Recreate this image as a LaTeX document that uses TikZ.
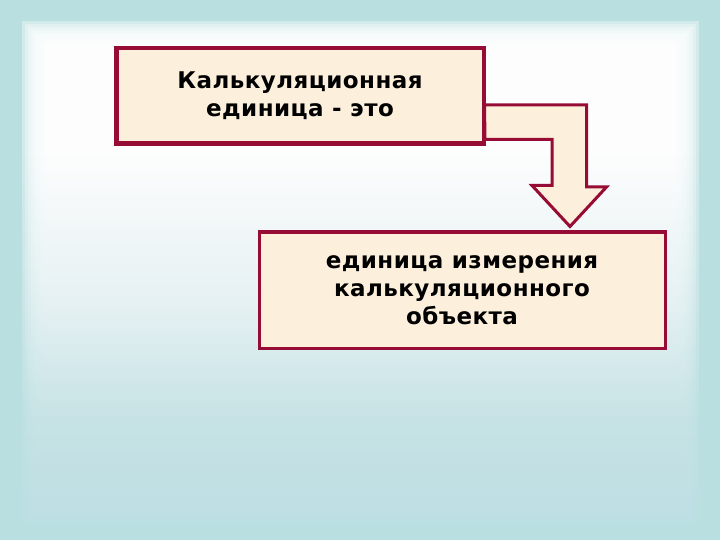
\documentclass[tikz,border=0pt]{standalone}
\usepackage{fontspec}
\setmainfont{DejaVu Sans}
\usetikzlibrary{calc}
\definecolor{teal0}{RGB}{186,223,224}
\definecolor{tealb}{RGB}{190,224,230}
\definecolor{crim}{RGB}{150,12,52}
\definecolor{beige}{RGB}{252,240,220}
\definecolor{bgA}{RGB}{232,243,245}
\definecolor{bgB}{RGB}{200,228,230}
\tikzset{
  box/.style={draw=crim, line width=3pt, fill=beige, inner sep=0pt,
    font=\bfseries\addfontfeatures{LetterSpace=2}\fontsize{23}{28}\selectfont, align=center},
  bigarrow/.style={draw=crim, line width=3pt, fill=beige, line join=miter}
}
\begin{document}
\begin{tikzpicture}[x=1pt,y=-1pt]
\useasboundingbox (0,0) rectangle (720,540);
\fill[teal0] (0,0) rectangle (720,540);
\foreach \i in {0,...,9}{
  \begin{scope}
    \clip ({22+3*\i},{22+3*\i}) rectangle ({698-3*\i},{522-3*\i});
    \begin{scope}[opacity=0.35, transparency group]
      \fill[white] (0,0) rectangle (720,150.5);
      \shade[top color=white, bottom color=bgA] (0,150) rectangle (720,300.5);
      \shade[top color=bgA, bottom color=bgB] (0,300) rectangle (720,420.5);
      \shade[top color=bgB, bottom color=tealb] (0,420) rectangle (720,540);
    \end{scope}
  \end{scope}
}
% boxes
\node[box, minimum width=366pt, minimum height=94pt] (a) at (300,96)
  {Калькуляционная\\единица - это};
\node[box, minimum width=406pt, minimum height=116pt] (b) at (462,290)
  {единица измерения\\калькуляционного\\объекта};
% bent arrow from (a) to (b)
\coordinate (tip) at ($(b.north)+(108,-4)$);
\path[bigarrow]
  ($(a.east)+(0,9)$) -- ++(102,0) -- ++(0,82) -- ++(20,0) -- (tip)
  -- ++(-38,-41) -- ++(20,0) -- ++(0,-46) -- ++(-67,0) -- cycle;
\draw[crim, line width=3pt] (a.north west) rectangle (a.south east);
\end{tikzpicture}
\end{document}
